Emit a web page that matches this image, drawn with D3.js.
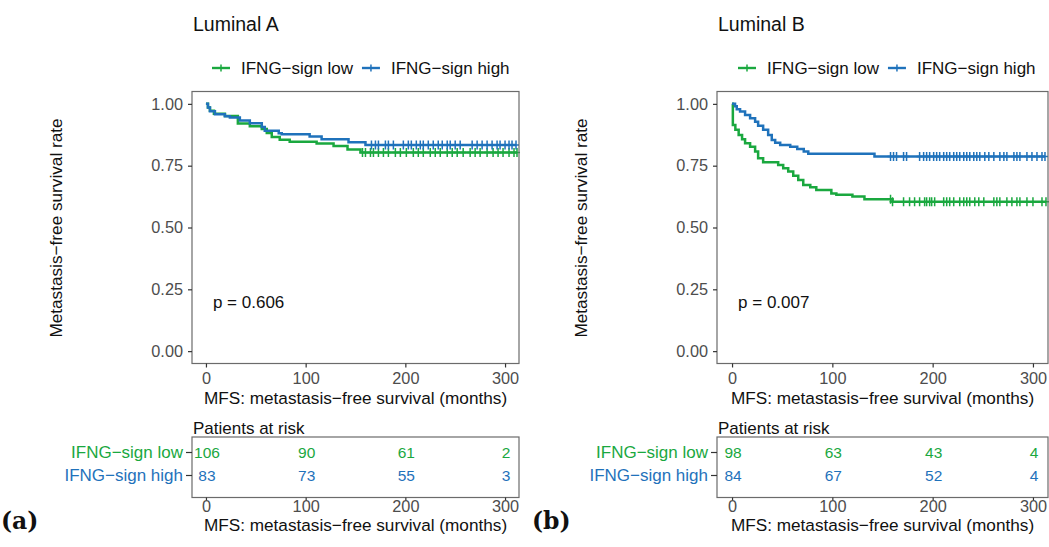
<!DOCTYPE html>
<html>
<head>
<meta charset="utf-8">
<script src="https://cdn.jsdelivr.net/npm/d3@7"></script>
<style>
  body { margin: 0; background: #fff; }
  svg { font-family: "Liberation Sans", Arial, sans-serif; }
</style>
</head>
<body>
<svg id="chart" width="1049" height="547"></svg>
<script>
// ---- data ----
const groups = ["IFNG\u2212sign low", "IFNG\u2212sign high"];
const riskTimes = [0, 100, 200, 300];
const yTicks = [0, 0.25, 0.5, 0.75, 1];

// Luminal A: [time, survival after step]
const lumA_low = [[0,1],[2,0.985],[4,0.972],[8,0.960],[19,0.951],[32,0.921],[44,0.909],[56,0.898],
  [61,0.882],[66,0.866],[74,0.855],[84,0.847],[111,0.840],[128,0.830],[142,0.815],[155,0.803]];
const lumA_high = [[0,1],[2,0.985],[4,0.970],[9,0.958],[19,0.950],[24,0.945],[34,0.933],[44,0.922],
  [56,0.906],[59,0.891],[73,0.881],[76,0.877],[104,0.868],[116,0.857],[143,0.845],[160,0.834]];
const lumA_low_cens = [157,160,165,168,173,178,183,190,195,201,208,213,218,225,230,235,242,247,
  252,258,265,270,275,282,288,293,298,304,309,312];
const lumA_high_cens = [166,170,173,180,183,188,198,203,206,211,215,218,223,228,233,237,242,245,
  250,255,267,272,277,282,287,292,295,300,304,307,311];
const lumA_risk_low = [106, 90, 61, 2];
const lumA_risk_high = [83, 73, 55, 3];

// Luminal B
const lumB_low = [[0,1],[0.8,0.915],[3.3,0.895],[6.6,0.874],[10,0.857],[13,0.841],[18,0.827],[23,0.807],
  [26,0.780],[31,0.764],[46,0.753],[51,0.740],[56,0.726],[61,0.709],[66,0.692],[71,0.672],[78,0.663],
  [84,0.652],[99,0.638],[104,0.632],[120,0.625],[132,0.614],[160,0.604]];
const lumB_high = [[0,1],[3,0.990],[4.7,0.978],[8,0.969],[13,0.955],[18,0.942],[23,0.928],[26,0.911],
  [31,0.895],[36,0.874],[39.6,0.854],[43,0.843],[48,0.834],[58,0.827],[65,0.817],[71.5,0.807],
  [76,0.798],[142,0.787]];
const lumB_low_cens = [158,160,171,177,182,187,192,194,197,199,202,211,214,217,221,227,231,234,237,
  242,246,251,261,264,267,274,279,284,287,294,300,309,313];
const lumB_high_cens = [158,161,164,171,174,187,191,194,197,201,204,207,211,214,217,221,224,227,231,
  234,237,241,244,247,252,256,261,267,271,274,281,284,287,294,299,304,309,312];
const lumB_risk_low = [98, 63, 43, 4];
const lumB_risk_high = [84, 67, 52, 4];

const colors = ["#1aa83f", "#1f72bb"];

const svg = d3.select("#chart");

function drawPanel(p) {
  const x = d3.scaleLinear([p.xmin, p.xmax], [p.left, p.right]);
  const y = d3.scaleLinear([-0.05, 1.05], [363.5, 91.5]);
  const g = svg.append("g");
  const midX = (p.left + p.right) / 2;

  // title
  g.append("text").attr("x", p.left + 1).attr("y", 30.5)
    .attr("font-size", 19.5).attr("fill", "#111").text(p.title);

  // legend
  let lx = p.legendX;
  groups.forEach((name, i) => {
    g.append("line").attr("x1", lx).attr("x2", lx + 18).attr("y1", 68).attr("y2", 68)
      .attr("stroke", colors[i]).attr("stroke-width", 2.4);
    g.append("line").attr("x1", lx + 9).attr("x2", lx + 9).attr("y1", 64.5).attr("y2", 71.5)
      .attr("stroke", colors[i]).attr("stroke-width", 1.5);
    const t = g.append("text").attr("x", lx + 29).attr("y", 74)
      .attr("font-size", 17).attr("fill", "#111").text(name);
    lx = lx + 29 + t.node().getComputedTextLength() + 9;
  });

  // curves + censor marks
  const line = d3.line().x(d => x(d[0])).y(d => y(d[1])).curve(d3.curveStepAfter);
  const bis = d3.bisector(d => d[0]).right;
  p.series.forEach((s, i) => {
    const last = s.steps[s.steps.length - 1][1];
    const end = d3.max(s.cens);
    g.append("path").datum(s.steps.concat([[end, last]]))
      .attr("d", line).attr("fill", "none")
      .attr("stroke", colors[i]).attr("stroke-width", 2.5);
    g.append("g").selectAll("path").data(s.cens).join("path")
      .attr("d", t => {
        const cx = x(t), cy = y(s.steps[bis(s.steps, t) - 1][1]);
        return `M${cx},${cy - 4.5}V${cy + 4.5}M${cx - 3},${cy}H${cx + 3}`;
      })
      .attr("stroke", colors[i]).attr("stroke-width", 1.5);
  });

  // panel border
  g.append("rect").attr("x", p.left).attr("y", 91.5)
    .attr("width", p.right - p.left).attr("height", 272)
    .attr("fill", "none").attr("stroke", "#6b6b6b").attr("stroke-width", 1.2);

  // axes
  const ya = g.append("g").attr("transform", `translate(${p.left},0)`)
    .call(d3.axisLeft(y).tickValues(yTicks).tickFormat(d3.format(".2f")).tickSize(4).tickPadding(5));
  const xa = g.append("g").attr("transform", "translate(0,363.5)")
    .call(d3.axisBottom(x).tickValues(riskTimes).tickSize(4).tickPadding(4.5));
  [ya, xa].forEach(a => {
    a.select(".domain").remove();
    a.selectAll("line").attr("stroke", "#333").attr("stroke-width", 1.2);
    a.selectAll("text").attr("font-size", 16.3).attr("fill", "#4d4d4d")
      .attr("font-family", "Liberation Sans, Arial, sans-serif");
  });

  g.append("text").attr("x", midX).attr("y", 404).attr("text-anchor", "middle")
    .attr("font-size", 17.2).attr("fill", "#111").text("MFS: metastasis\u2212free survival (months)");
  g.append("text").attr("transform", `translate(${p.left - 130},228) rotate(-90)`)
    .attr("text-anchor", "middle").attr("font-size", 17.2).attr("fill", "#111")
    .text("Metastasis\u2212free survival rate");

  g.append("text").attr("x", x(p.pX)).attr("y", 308).attr("font-size", 17)
    .attr("fill", "#111").text(p.pText);

  // risk table
  g.append("text").attr("x", p.left + 1).attr("y", 434).attr("font-size", 17)
    .attr("fill", "#111").text("Patients at risk");
  g.append("rect").attr("x", p.left).attr("y", 437)
    .attr("width", p.right - p.left).attr("height", 60.5)
    .attr("fill", "none").attr("stroke", "#6b6b6b").attr("stroke-width", 1.2);

  const ry = d3.scalePoint(groups, [452, 475]);
  const ra = g.append("g").attr("transform", `translate(${p.left},0)`)
    .call(d3.axisLeft(ry).tickSize(6).tickPadding(3));
  ra.select(".domain").remove();
  ra.selectAll("line").attr("stroke", "#333").attr("stroke-width", 1.2);
  ra.selectAll("text").attr("font-size", 17).attr("font-family", "Liberation Sans, Arial, sans-serif")
    .attr("fill", (d, i) => colors[i]);

  p.risk.forEach((row, i) => {
    g.append("g").selectAll("text").data(row).join("text")
      .attr("x", (d, j) => x(riskTimes[j]) + 1)
      .attr("y", ry(groups[i])).attr("dy", "0.36em")
      .attr("text-anchor", "middle").attr("font-size", 15.5)
      .attr("fill", colors[i]).text(d => d);
  });

  const rx = g.append("g").attr("transform", "translate(0,497.5)")
    .call(d3.axisBottom(x).tickValues(riskTimes).tickSize(3).tickPadding(0));
  rx.select(".domain").remove();
  rx.selectAll("line").attr("stroke", "#333").attr("stroke-width", 1.2);
  rx.selectAll("text").attr("font-size", 16.3).attr("fill", "#4d4d4d")
    .attr("font-family", "Liberation Sans, Arial, sans-serif");

  g.append("text").attr("x", midX).attr("y", 530.5).attr("text-anchor", "middle")
    .attr("font-size", 17.2).attr("fill", "#111").text("MFS: metastasis\u2212free survival (months)");

  // panel letter
  g.append("text").attr("x", p.letterX).attr("y", 529)
    .attr("font-family", "DejaVu Serif, serif").attr("font-weight", "bold")
    .attr("font-size", 23.5).attr("fill", "#111").text(p.letter);
}

drawPanel({
  title: "Luminal A", letter: "(a)", letterX: 1,
  left: 192, right: 519, xmin: -14, xmax: 314, legendX: 212,
  pText: "p = 0.606", pX: 7,
  series: [{ steps: lumA_low, cens: lumA_low_cens }, { steps: lumA_high, cens: lumA_high_cens }],
  risk: [lumA_risk_low, lumA_risk_high]
});
drawPanel({
  title: "Luminal B", letter: "(b)", letterX: 532,
  left: 717, right: 1048, xmin: -15, xmax: 315, legendX: 738,
  pText: "p = 0.007", pX: 6,
  series: [{ steps: lumB_low, cens: lumB_low_cens }, { steps: lumB_high, cens: lumB_high_cens }],
  risk: [lumB_risk_low, lumB_risk_high]
});
</script>
</body>
</html>
